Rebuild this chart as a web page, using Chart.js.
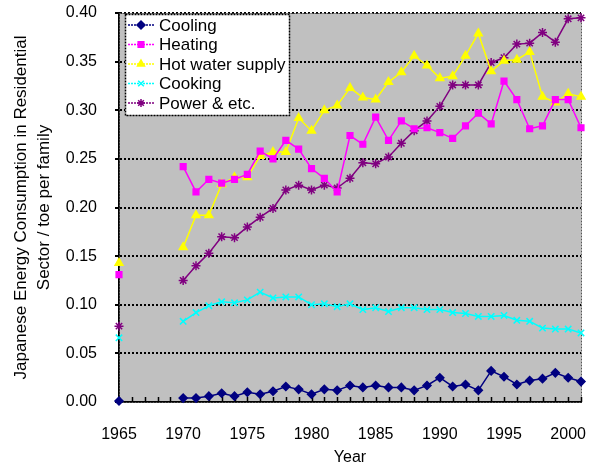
<!DOCTYPE html>
<html>
<head>
<meta charset="utf-8">
<script src="https://cdn.jsdelivr.net/npm/chart.js@4/dist/chart.umd.min.js"></script>
<style>
  body { margin: 0; background: #fff; }
  #wrap { width: 610px; height: 467px; }
</style>
</head>
<body>
<div id="wrap"><canvas id="myChart" width="610" height="467"></canvas></div>
<script>
// years 1965..2001, 1966-1969 are missing in the source data
var years = [];
for (var yr = 1965; yr <= 2001; yr++) years.push(yr);

var cooling = [0.001, null, null, null, null,
  0.004, 0.004, 0.006, 0.009, 0.006, 0.010, 0.008, 0.011, 0.016, 0.013,
  0.008, 0.013, 0.012, 0.017, 0.015, 0.017, 0.015, 0.015, 0.012, 0.017,
  0.025, 0.016, 0.018, 0.012, 0.032, 0.026, 0.018, 0.022, 0.024, 0.030,
  0.025, 0.021];
var heating = [0.131, null, null, null, null,
  0.242, 0.216, 0.229, 0.225, 0.229, 0.234, 0.258, 0.250, 0.269, 0.260,
  0.240, 0.230, 0.216, 0.274, 0.265, 0.293, 0.269, 0.289, 0.281, 0.282,
  0.277, 0.271, 0.284, 0.297, 0.286, 0.330, 0.311, 0.281, 0.284, 0.311,
  0.311, 0.282];
var hotWater = [0.143, null, null, null, null,
  0.159, 0.192, 0.192, 0.224, 0.231, 0.231, 0.253, 0.257, 0.257, 0.292,
  0.279, 0.300, 0.305, 0.323, 0.313, 0.311, 0.329, 0.339, 0.356, 0.346,
  0.333, 0.335, 0.356, 0.379, 0.340, 0.351, 0.352, 0.360, 0.314, 0.308,
  0.317, 0.314];
var cooking = [0.066, null, null, null, null,
  0.083, 0.092, 0.099, 0.103, 0.102, 0.105, 0.113, 0.107, 0.108, 0.108,
  0.100, 0.101, 0.098, 0.101, 0.095, 0.097, 0.093, 0.097, 0.097, 0.095,
  0.095, 0.092, 0.091, 0.088, 0.088, 0.089, 0.084, 0.083, 0.076, 0.075,
  0.075, 0.071];
var power = [0.078, null, null, null, null,
  0.125, 0.140, 0.153, 0.170, 0.169, 0.180, 0.190, 0.199, 0.218, 0.223,
  0.218, 0.223, 0.220, 0.230, 0.246, 0.245, 0.252, 0.266, 0.279, 0.289,
  0.304, 0.326, 0.326, 0.326, 0.349, 0.354, 0.368, 0.369, 0.380, 0.370,
  0.394, 0.395];

var xTicks = [1965, 1970, 1975, 1980, 1985, 1990, 1995, 2000];
var yTicks = [0, 0.05, 0.10, 0.15, 0.20, 0.25, 0.30, 0.35, 0.40];

var FONT = '"Liberation Sans", Arial, sans-serif';

function toPoints(values) {
  return years.map(function (y, i) {
    return { x: y, y: values[i] };
  });
}

function makeSet(label, values, color, style, radius) {
  return {
    label: label,
    data: toPoints(values),
    borderColor: color,
    backgroundColor: color,
    borderWidth: 1.5,
    pointStyle: style,
    pointRadius: radius,
    pointBorderWidth: 1.5,
    spanGaps: false,
    clip: false
  };
}

// gray plot background, frame and inward year ticks
var plotFrame = {
  id: 'plotFrame',
  beforeDraw: function (chart) {
    var a = chart.chartArea, ctx = chart.ctx;
    ctx.save();
    ctx.fillStyle = '#c0c0c0';
    ctx.fillRect(a.left, a.top, a.right - a.left, a.bottom - a.top);
    ctx.restore();
  },
  beforeDatasetsDraw: function (chart) {
    var a = chart.chartArea, ctx = chart.ctx, xs = chart.scales.x;
    ctx.save();
    ctx.strokeStyle = '#555';
    ctx.lineWidth = 1;
    ctx.setLineDash([2, 1]);
    ctx.strokeRect(a.left + 0.5, a.top + 0.5, a.right - a.left, a.bottom - a.top);
    ctx.setLineDash([]);
    ctx.strokeStyle = '#000';
    ctx.lineWidth = 1.5;
    years.forEach(function (y) {
      var px = Math.round(xs.getPixelForValue(y)) + 0.5;
      ctx.beginPath();
      ctx.moveTo(px, a.bottom);
      ctx.lineTo(px, a.bottom - 5);
      ctx.stroke();
    });
    ctx.restore();
  }
};

// legend box drawn inside the plot, top-left
var boxLegend = {
  id: 'boxLegend',
  afterDraw: function (chart) {
    var a = chart.chartArea, ctx = chart.ctx;
    var x0 = a.left + 6, y0 = a.top + 1, w = 164, h = 101, row = 19.5;
    ctx.save();
    ctx.fillStyle = '#fff';
    ctx.fillRect(x0, y0, w, h);
    ctx.strokeStyle = '#000';
    ctx.setLineDash([2, 1]);
    ctx.lineWidth = 1.5;
    ctx.strokeRect(x0 + 0.5, y0 + 0.5, w, h);
    ctx.font = '17px ' + FONT;
    ctx.textBaseline = 'middle';
    chart.data.datasets.forEach(function (ds, i) {
      var cy = y0 + 11 + i * row;
      ctx.setLineDash([2, 1]);
      ctx.strokeStyle = ds.borderColor;
      ctx.lineWidth = 1.5;
      ctx.beginPath();
      ctx.moveTo(x0 + 3, cy);
      ctx.lineTo(x0 + 30, cy);
      ctx.stroke();
      ctx.setLineDash([]);
      ctx.fillStyle = ds.borderColor;
      Chart.helpers.drawPoint(ctx, {
        pointStyle: ds.pointStyle, radius: 4, borderWidth: 1.5
      }, x0 + 16, cy);
      ctx.fillStyle = '#000';
      ctx.fillText(ds.label, x0 + 34, cy + 1);
    });
    ctx.restore();
  }
};

var ctx = document.getElementById('myChart');
var myChart = new Chart(ctx, {
  type: 'line',
  data: {
    datasets: [
      makeSet('Cooling', cooling, '#000080', 'rectRot', 4),
      makeSet('Heating', heating, '#ff00ff', 'rect', 4),
      makeSet('Hot water supply', hotWater, '#ffff00', 'triangle', 4.5),
      makeSet('Cooking', cooking, '#00ffff', 'crossRot', 4.5),
      makeSet('Power & etc.', power, '#800080', 'star', 4.5)
    ]
  },
  options: {
    responsive: false,
    animation: false,
    layout: { padding: { top: 13, right: 29, left: 0, bottom: 0 } },
    plugins: {
      legend: { display: false },
      tooltip: { enabled: false }
    },
    scales: {
      x: {
        type: 'linear',
        min: 1965,
        max: 2001,
        afterBuildTicks: function (axis) {
          axis.ticks = years.map(function (v) { return { value: v }; });
        },
        afterFit: function (axis) {
          axis.height = 65;
          axis.paddingLeft = 0;
          axis.paddingRight = 0;
        },
        ticks: {
          autoSkip: false,
          maxRotation: 0,
          color: '#000',
          padding: 23,
          font: { family: FONT, size: 16 },
          callback: function (v) {
            return xTicks.indexOf(v) >= 0 ? String(v) : '';
          }
        },
        grid: {
          drawOnChartArea: false,
          drawTicks: false
        },
        border: { color: '#000', width: 2 },
        title: {
          display: true,
          text: 'Year',
          color: '#000',
          font: { family: FONT, size: 16 },
          padding: { top: 0, bottom: 0 }
        }
      },
      y: {
        min: 0,
        max: 0.4,
        afterBuildTicks: function (axis) {
          axis.ticks = yTicks.map(function (v) { return { value: v }; });
        },
        afterFit: function (axis) {
          axis.width = 119;
          axis.paddingTop = 0;
          axis.paddingBottom = 0;
        },
        ticks: {
          color: '#000',
          font: { family: FONT, size: 16 },
          padding: 18,
          callback: function (v) { return v.toFixed(2); }
        },
        grid: {
          color: '#000',
          lineWidth: 2,
          tickLength: 4
        },
        border: { color: '#000', width: 2, dash: [2, 2] },
        title: {
          display: true,
          text: ['Japanese Energy Consumption in Residential', 'Sector / toe per family'],
          color: '#000',
          font: { family: FONT, size: 17, lineHeight: 1.35 },
          padding: { top: 10, bottom: 0 }
        }
      }
    }
  },
  plugins: [plotFrame, boxLegend]
});
myChart.options.scales.y.grid.borderDash = [2, 2];
myChart.options.scales.y.grid.tickBorderDash = [];
myChart.update();
</script>
</body>
</html>
